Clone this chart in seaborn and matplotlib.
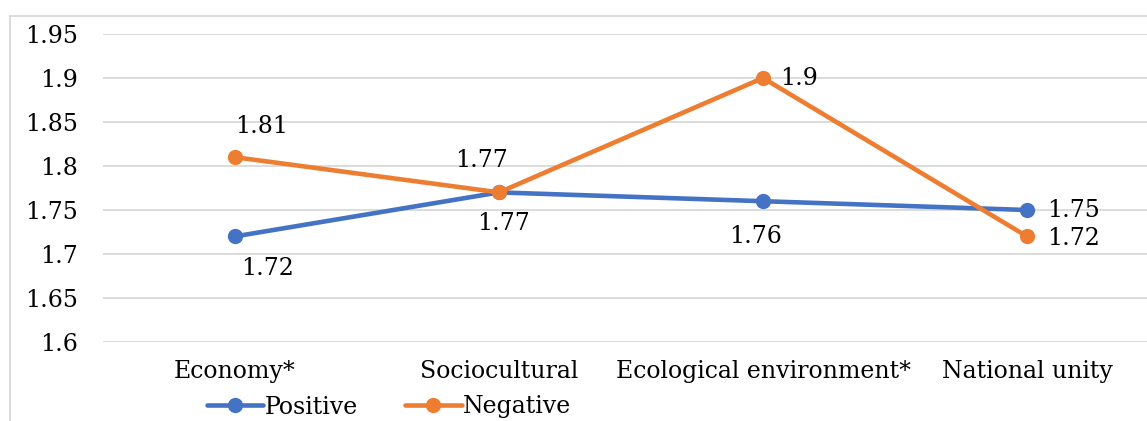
import matplotlib
matplotlib.use("Agg")
import matplotlib.pyplot as plt
import seaborn as sns
import pandas as pd
from matplotlib.patches import Rectangle

categories = ["Economy*", "Sociocultural", "Ecological environment*", "National unity"]
positive = [1.72, 1.77, 1.76, 1.75]
negative = [1.81, 1.77, 1.90, 1.72]
series_names = ["Positive", "Negative"]
y_ticks = [1.6, 1.65, 1.7, 1.75, 1.8, 1.85, 1.9, 1.95]
y_tick_labels = ["1.6", "1.65", "1.7", "1.75", "1.8", "1.85", "1.9", "1.95"]

# label offsets (pixels) for each data label
pos_offsets = [(33, -32), (5, -31), (-7, -35), (47, -1)]
neg_offsets = [(27, 31), (-17, 32), (36, -1), (47, -2)]

sns.set_theme(style="white")
plt.rcParams["font.family"] = ["DejaVu Serif"]
plt.rcParams["text.color"] = "black"
FS = 17

df = pd.DataFrame({
    "category": categories * 2,
    "value": positive + negative,
    "series": [series_names[0]] * 4 + [series_names[1]] * 4,
})

W, H = 1147, 421
fig = plt.figure(figsize=(W / 100, H / 100), dpi=100)
ax = fig.add_axes([103 / W, 1 - 342 / H, (1159 - 103) / W, (342 - 34) / H])

colors = {"Positive": "#4472C4", "Negative": "#ED7D31"}
sns.lineplot(data=df, x="category", y="value", hue="series", palette=colors,
             marker="o", markersize=11, markeredgewidth=0, linewidth=3.3,
             sort=False, ax=ax)

ax.set_xlim(-0.5, 3.5)
ax.set_ylim(1.6, 1.95)
ax.set_yticks(y_ticks)
ax.set_yticklabels(y_tick_labels)
ax.set_xlabel("")
ax.set_ylabel("")
ax.grid(axis="y", color="#d9d9d9", linewidth=1.3)
ax.grid(axis="x", visible=False)
ax.set_axisbelow(True)
for s in ax.spines.values():
    s.set_visible(False)
ax.tick_params(axis="x", length=0, pad=13, labelsize=FS, colors="black")
ax.tick_params(axis="y", length=0, pad=18, labelsize=FS, colors="black")

for i, cat in enumerate(categories):
    ax.annotate(f"{positive[i]:g}", (i, positive[i]), xytext=pos_offsets[i],
                textcoords="offset pixels", ha="center", va="center",
                fontsize=FS, color="black")
    ax.annotate(f"{negative[i]:g}", (i, negative[i]), xytext=neg_offsets[i],
                textcoords="offset pixels", ha="center", va="center",
                fontsize=FS, color="black")

handles, labels = ax.get_legend_handles_labels()
ax.get_legend().remove()
leg = fig.legend(handles, labels, loc="center", bbox_to_anchor=(389 / W, 1 - 407 / H),
                 ncol=2, frameon=False, fontsize=FS, handlelength=2.4,
                 handletextpad=0.05, columnspacing=2.0, borderpad=0)
for t in leg.get_texts():
    t.set_color("black")

fig.patches.append(Rectangle((10 / W, -0.1), 1.2, 1 - 16 / H + 0.1,
                             transform=fig.transFigure, fill=False,
                             edgecolor="#d9d9d9", linewidth=1.3))

fig.savefig("out.png", dpi=100)
